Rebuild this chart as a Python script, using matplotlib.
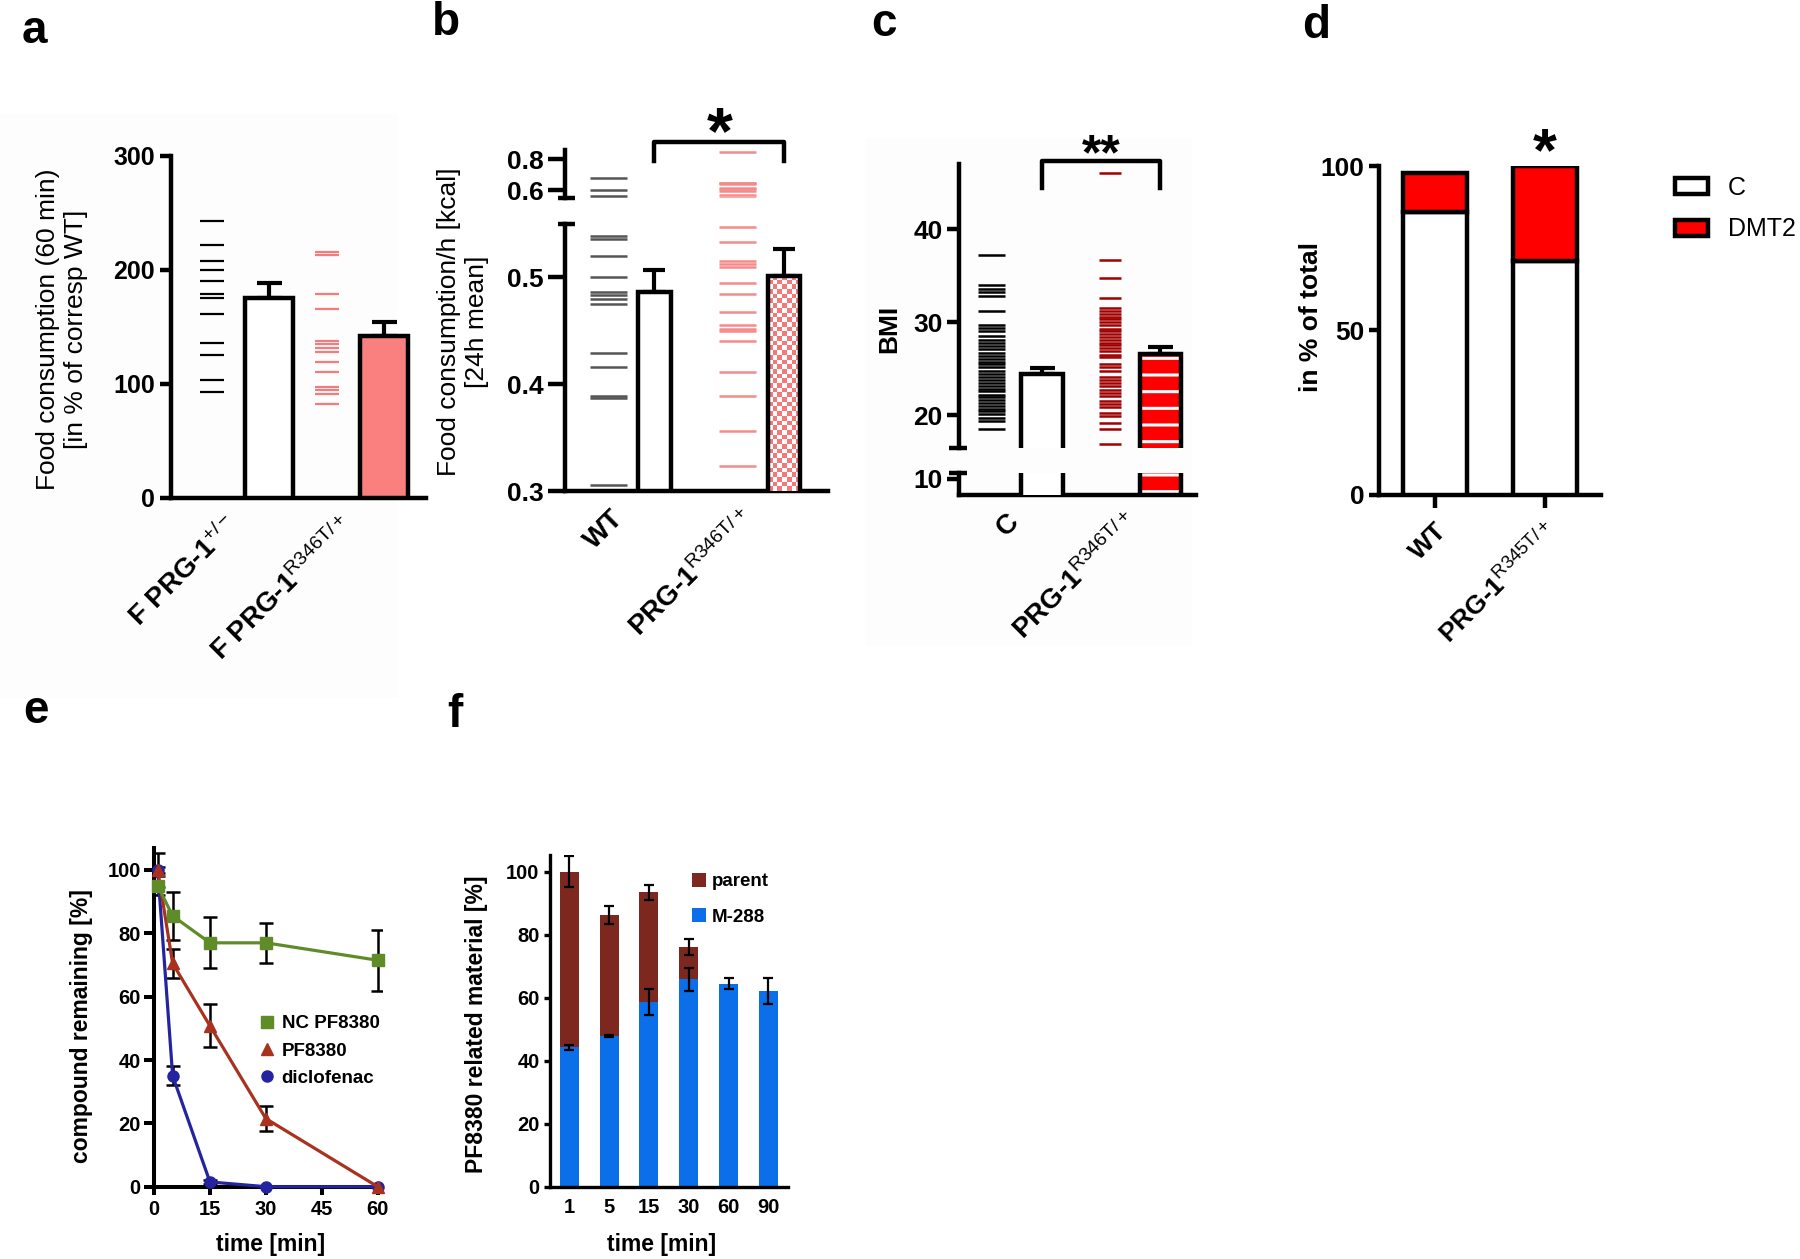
import numpy as np
import matplotlib
matplotlib.use("Agg")
import matplotlib.pyplot as plt
import matplotlib.transforms as mtransforms
from matplotlib.colors import ListedColormap
from matplotlib.lines import Line2D
from matplotlib.patches import Rectangle

plt.rcParams['font.family'] = ['Liberation Sans', 'DejaVu Sans']
plt.rcParams['mathtext.fontset'] = 'custom'
plt.rcParams['mathtext.rm'] = 'Liberation Sans'
plt.rcParams['mathtext.it'] = 'Liberation Sans:italic'
plt.rcParams['mathtext.bf'] = 'Liberation Sans:bold'
plt.rcParams['hatch.linewidth'] = 2.2

# ---------------- data ----------------
# panel a
a_labels = [r"F PRG-1$^{\mathrm{+/-}}$", r"F PRG-1$^{\mathrm{R346T/+}}$"]
a_means = [175, 142]
a_sem = [13, 12]
a_pts_het = [243, 221.5, 207.6, 200, 189.7, 178.4, 175, 161, 135.6, 124.9, 103, 92.4]
a_pts_mut = [215.7, 212.4, 179, 165, 137.8, 134.6, 131.4, 128, 119, 110, 97, 94, 91, 82]

# panel b
b_labels = ["WT", r"PRG-1$^{\mathrm{R346T/+}}$"]
b_means = [0.486, 0.501]
b_sem = [0.021, 0.025]
b_pts_wt = [0.677, 0.600, 0.563, 0.538, 0.536, 0.520, 0.500, 0.486, 0.483, 0.480,
            0.475, 0.429, 0.416, 0.389, 0.387, 0.306]
b_pts_mut = [0.847, 0.649, 0.645, 0.640, 0.612, 0.605, 0.595, 0.570, 0.547, 0.533,
             0.515, 0.5125, 0.5096, 0.4946, 0.484, 0.467, 0.455, 0.452, 0.450, 0.440,
             0.411, 0.389, 0.356, 0.324]

# panel c
c_labels = ["C", r"PRG-1$^{\mathrm{R346T/+}}$"]
c_means = [24.4, 26.6]
c_sem = [0.65, 0.7]
c_pts_c = [37.2, 34.0, 33.6, 33.2, 32.85, 31.15, 29.7, 29.4, 29.1, 28.5, 28.1, 27.8,
           27.4, 27.1, 26.7, 26.4, 26.0, 25.7, 25.5, 25.15, 24.7, 24.4, 24.1, 23.8,
           23.5, 23.15, 22.85, 22.6, 22.2, 21.9, 21.6, 21.3, 21.0, 20.7, 20.4, 20.1,
           19.7, 19.4, 18.46]
c_pts_mut = [46.1, 36.7, 34.77, 32.58, 31.5, 31.2, 30.9, 30.6, 30.3, 30.0, 29.7, 29.3,
             29.0, 28.7, 28.4, 28.1, 27.8, 27.5, 27.2, 26.85, 26.5, 26.2, 25.46, 25.15,
             24.77, 24.1, 23.8, 23.46, 23.15, 22.7, 22.4, 22.1, 21.5, 21.2, 20.9, 20.27,
             19.9, 19.1, 18.46, 16.9]

# panel d
d_labels = ["WT", r"PRG-1$^{\mathrm{R345T/+}}$"]
d_control = [86, 71]
d_dmt2 = [12, 29]

# panel e
e_time = [1, 5, 15, 30, 60]
e_nc = [95, 85.5, 77, 77, 71.5]
e_nc_err = [3, 7.5, 8, 6.3, 9.6]
e_pf = [100, 70.5, 50.8, 21.5, 0]
e_pf_err = [5.5, 4.7, 6.8, 4, 0]
e_dic = [100, 35, 1.5, 0, 0]
e_dic_err = [1, 3, 0.5, 0, 0]

# panel f
f_time = ["1", "5", "15", "30", "60", "90"]
f_m288 = [44.2, 47.8, 58.7, 65.8, 64.5, 62.1]
f_m288_err = [0.8, 0.3, 4.2, 3.7, 1.8, 4.0]
f_parent = [55.8, 38.4, 34.7, 10.2, 0, 0]
f_total_err = [5.0, 2.8, 2.3, 2.5, 0, 0]

# ---------------- figure ----------------
W, H = 1800, 1259
fig = plt.figure(figsize=(W / 100, H / 100), dpi=100)


def rect(x0, y0, x1, y1):
    return [x0 / W, 1 - y1 / H, (x1 - x0) / W, (y1 - y0) / H]


def fy(y):
    return 1 - y / H


def style(ax, lw, ticklen, left=True, bottom=True):
    ax.patch.set_visible(False)
    for s in ('top', 'right'):
        ax.spines[s].set_visible(False)
    ax.spines['left'].set_visible(left)
    ax.spines['bottom'].set_visible(bottom)
    for s in ('left', 'bottom'):
        ax.spines[s].set_linewidth(lw)
        ax.spines[s].set_capstyle('projecting')
    ax.tick_params(width=lw, length=ticklen, direction='out', color='black')
    if not bottom:
        ax.tick_params(axis='x', bottom=False, labelbottom=False)


def cap(ax, y, x0, x1, lw):
    ax.plot([x0, x1], [y, y], transform=ax.transAxes, clip_on=False, color='black',
            lw=lw, solid_capstyle='butt')


def shift_xlabels(ax, dx, dy=0):
    off = mtransforms.ScaledTranslation(dx / 100, dy / 100, fig.dpi_scale_trans)
    for lab in ax.get_xticklabels():
        lab.set_transform(lab.get_transform() + off)


# faint panel backgrounds
fig.add_artist(Rectangle((0, fy(698)), 398 / W, (698 - 113) / H, transform=fig.transFigure,
                         facecolor='#fdfdfd', edgecolor='none', zorder=-10))
fig.add_artist(Rectangle((865 / W, fy(646)), (1192 - 865) / W, (646 - 138) / H,
                         transform=fig.transFigure, facecolor='#fdfdfd', edgecolor='none',
                         zorder=-10))

# panel letters
for lab, x, y in [('a', 22, 43), ('b', 432, 35), ('c', 871, 36), ('d', 1302, 38),
                  ('e', 23, 723), ('f', 447, 727)]:
    fig.text(x / W, fy(y), lab, fontsize=33, fontweight='bold', ha='left', va='baseline')

LW = 3.2

# ================= panel a =================
axa = fig.add_axes(rect(170.9, 155.5, 425.5, 497.7))
pos_a = [0, 1, 2, 3]
axa.hlines(a_pts_het, pos_a[0] - 0.21, pos_a[0] + 0.21, color='black', lw=1.6)
axa.hlines(a_pts_mut, pos_a[2] - 0.21, pos_a[2] + 0.21, color='#f47c7c', lw=1.6)
axa.errorbar([pos_a[1], pos_a[3]], a_means, yerr=[[0, 0], a_sem], fmt='none',
             ecolor='black', elinewidth=3, capsize=9, capthick=3, zorder=2)
axa.bar([pos_a[1], pos_a[3]], a_means, width=0.84, color=['white', '#fa8080'],
        edgecolor='black', linewidth=LW, zorder=3)
axa.set_xlim(-0.711, 3.717)
axa.set_ylim(0, 300)
style(axa, LW, 8)
axa.set_yticks([0, 100, 200, 300], ['0', '100', '200', '300'], fontsize=18, fontweight='bold')
axa.set_xticks([pos_a[1], pos_a[3]], a_labels, fontsize=20, fontweight='bold', rotation=45,
               ha='right', rotation_mode='anchor')
axa.tick_params(axis='x', length=0, pad=10)
shift_xlabels(axa, -45)
fig.text(62 / W, fy(329), "Food consumption (60 min)\n[in % of corresp WT]", rotation=90,
         ha='center', va='center', multialignment='center', fontsize=19)

# ================= panel b =================
axb_lo = fig.add_axes(rect(565.4, 223.5, 827.6, 491.4))
axb_hi = fig.add_axes(rect(565.4, 150.0, 827.6, 197.9))
pos_b = [0, 1, 2.8, 3.8]
for ax in (axb_lo, axb_hi):
    ax.hlines(b_pts_wt, pos_b[0] - 0.4, pos_b[0] + 0.4, color='#555555', lw=1.8)
    ax.hlines(b_pts_mut, pos_b[2] - 0.4, pos_b[2] + 0.4, color='#f58a8a', lw=1.8)
axb_lo.errorbar([pos_b[1], pos_b[3]], b_means, yerr=[[0, 0], b_sem], fmt='none',
                ecolor='black', elinewidth=3, capsize=8, capthick=3, zorder=2)
bars_b = axb_lo.bar([pos_b[1], pos_b[3]], b_means, width=0.7, color='white',
                    edgecolor='none', zorder=2.5)
nx, ny = 7, 46
chk = np.add.outer(np.arange(ny), np.arange(nx)) % 2
im = axb_lo.imshow(chk, extent=(pos_b[3] - 0.35, pos_b[3] + 0.35, 0.3, b_means[1]),
                   cmap=ListedColormap(['white', '#f47878']), interpolation='nearest',
                   aspect='auto', zorder=2.6)
im.set_clip_path(bars_b[1])
axb_lo.bar([pos_b[1], pos_b[3]], b_means, width=0.7, color='none', edgecolor='black',
           linewidth=LW, zorder=3)
for ax in (axb_lo, axb_hi):
    ax.set_xlim(-0.923, 4.74)
axb_lo.set_ylim(0.3, 0.55)
axb_hi.set_ylim(0.55, 0.859)
style(axb_lo, LW, 12)
style(axb_hi, LW, 12, bottom=False)
axb_lo.set_yticks([0.3, 0.4, 0.5], ['0.3', '0.4', '0.5'], fontsize=19, fontweight='bold')
axb_hi.set_yticks([0.6, 0.8], ['0.6', '0.8'], fontsize=19, fontweight='bold')
axb_lo.set_xticks([pos_b[1], pos_b[3]], b_labels, fontsize=20, fontweight='bold',
                  rotation=45, ha='right', rotation_mode='anchor')
axb_lo.tick_params(axis='x', length=0, pad=10)
shift_xlabels(axb_lo, -44)
cap(axb_lo, 1, -0.029, 0.037, LW)
cap(axb_hi, 0, -0.029, 0.037, LW)
trb = mtransforms.blended_transform_factory(axb_hi.transData, axb_hi.transAxes)
axb_hi.plot([pos_b[1], pos_b[1], pos_b[3], pos_b[3]], [0.76, 1.167, 1.167, 0.76],
            transform=trb, clip_on=False, color='black', lw=LW)
trbf = mtransforms.blended_transform_factory(axb_hi.transData, fig.transFigure)
axb_hi.text((pos_b[1] + pos_b[3]) / 2, fy(153), '*', transform=trbf, fontsize=48,
            fontweight='bold', ha='center', va='baseline')
fig.text(463 / W, fy(322), "Food consumption/h [kcal]\n[24h mean]", rotation=90,
         ha='center', va='center', multialignment='center', fontsize=19)

# ================= panel c =================
axc_hi = fig.add_axes(rect(959.3, 163.6, 1195.7, 448.2))
axc_lo = fig.add_axes(rect(959.3, 473.2, 1195.7, 494.6))
pos_c = [0, 1, 2.35, 3.35]
for ax in (axc_hi, axc_lo):
    ax.hlines(c_pts_c, pos_c[0] - 0.265, pos_c[0] + 0.265, color='black', lw=1.8)
    ax.hlines(c_pts_mut, pos_c[2] - 0.22, pos_c[2] + 0.22, color='#a00000', lw=1.8)
    ax.bar(pos_c[3], c_means[1], width=0.82, color='#ff0000', edgecolor='white',
           hatch='-', linewidth=0, zorder=2.5)
    ax.bar(pos_c[1], c_means[0], width=0.83, color='white', edgecolor='black',
           linewidth=LW, zorder=3)
    ax.bar(pos_c[3], c_means[1], width=0.82, color='none', edgecolor='black',
           linewidth=LW, zorder=3)
    ax.set_xlim(-0.632, 4.05)
axc_hi.errorbar([pos_c[1], pos_c[3]], c_means, yerr=[[0, 0], c_sem], fmt='none',
                ecolor='black', elinewidth=3, capsize=9, capthick=3, zorder=2)
axc_hi.set_ylim(16.43, 47.07)
axc_lo.set_ylim(8.28, 10.58)
style(axc_hi, LW, 8.5, bottom=False)
style(axc_lo, LW, 8.5)
axc_hi.set_yticks([20, 30, 40], ['20', '30', '40'], fontsize=19, fontweight='bold')
axc_lo.set_yticks([10], ['10'], fontsize=19, fontweight='bold')
axc_lo.set_xticks([pos_c[1], pos_c[3]], c_labels, fontsize=20, fontweight='bold',
                  rotation=45, ha='right', rotation_mode='anchor')
axc_lo.tick_params(axis='x', length=0, pad=10)
shift_xlabels(axc_lo, -36)
cap(axc_hi, 0, -0.042, 0.033, LW)
cap(axc_lo, 1, -0.042, 0.033, LW)
trc = mtransforms.blended_transform_factory(axc_hi.transData, axc_hi.transAxes)
axc_hi.plot([pos_c[1], pos_c[1], pos_c[3], pos_c[3]], [0.916, 1.0077, 1.0077, 0.916],
            transform=trc, clip_on=False, color='black', lw=LW)
trcf = mtransforms.blended_transform_factory(axc_hi.transData, fig.transFigure)
axc_hi.text((pos_c[1] + pos_c[3]) / 2, fy(169), '**', transform=trcf, fontsize=36,
            fontweight='bold', ha='center', va='baseline')
fig.text(889.6 / W, fy(328.6), "BMI", rotation=90, ha='center', va='center',
         fontsize=19, fontweight='bold')

# ================= panel d =================
axd = fig.add_axes(rect(1379.3, 166.1, 1600.7, 494.6))
pos_d = [0, 1]
axd.bar(pos_d, d_control, width=0.58, color='white', edgecolor='black', linewidth=LW,
        label='C', zorder=3)
axd.bar(pos_d, d_dmt2, bottom=d_control, width=0.58, color='#ff0000', edgecolor='black',
        linewidth=LW, label='DMT2', zorder=3)
axd.set_xlim(-0.503, 1.51)
axd.set_ylim(0, 100)
style(axd, LW, 7.2)
axd.set_yticks([0, 50, 100], ['0', '50', '100'], fontsize=19, fontweight='bold')
axd.set_xticks(pos_d, d_labels, fontsize=19, fontweight='bold', rotation=45, ha='right',
               rotation_mode='anchor')
axd.tick_params(axis='x', length=9, pad=8)
trdf = mtransforms.blended_transform_factory(axd.transData, fig.transFigure)
axd.text(pos_d[1], fy(170), '*', transform=trdf, fontsize=44, fontweight='bold',
         ha='center', va='baseline')
axd.legend(loc='upper left', bbox_to_anchor=(1675 / W, fy(176)), bbox_transform=fig.transFigure,
           frameon=False, fontsize=18, handlelength=1.3, handleheight=0.6,
           handletextpad=0.8, labelspacing=0.7, borderpad=0, borderaxespad=0)
fig.text(1311.4 / W, fy(316.8), "in % of total", rotation=90, ha='center', va='center',
         fontsize=19, fontweight='bold')

# ================= panel e =================
axe = fig.add_axes(rect(154, 847.8, 381.7, 1186.7))
series_e = [
    (e_dic, e_dic_err, '#2424a0', 'o', 'diclofenac'),
    (e_pf, e_pf_err, '#a8321e', '^', 'PF8380'),
    (e_nc, e_nc_err, '#5f8c28', 's', 'NC PF8380'),
]
handles_e = {}
for yv, err, col, mk, lab in series_e:
    axe.errorbar(e_time, yv, yerr=err, fmt='none', ecolor='black', elinewidth=1.8,
                 capsize=5, capthick=1.8, zorder=2)
    axe.plot(e_time, yv, color=col, lw=2.3, marker=mk, ms=8, zorder=3, clip_on=False)
    handles_e[lab] = Line2D([], [], color=col, marker=mk, ms=8, ls='none')
axe.set_xlim(0, 61.07)
axe.set_ylim(0, 107)
style(axe, 2.9, 7)
axe.set_yticks([0, 20, 40, 60, 80, 100], ['0', '20', '40', '60', '80', '100'],
               fontsize=14.5, fontweight='bold')
axe.set_xticks([0, 15, 30, 45, 60], ['0', '15', '30', '45', '60'], fontsize=14.5,
               fontweight='bold')
axe.tick_params(axis='x', length=6)
axe.tick_params(axis='y', pad=2.5)
order_e = ['NC PF8380', 'PF8380', 'diclofenac']
axe.legend([handles_e[k] for k in order_e], order_e, loc='upper left',
           bbox_to_anchor=(259 / W, fy(1015)), bbox_transform=fig.transFigure,
           frameon=False, prop={'weight': 'bold', 'size': 13.5}, handlelength=0.8,
           handletextpad=0.4, labelspacing=0.55, borderpad=0, borderaxespad=0)
fig.text(81.7 / W, fy(1025.8), "compound remaining [%]", rotation=90, ha='center',
         va='center', fontsize=16.5, fontweight='bold')
fig.text(270.5 / W, fy(1245), "time [min]", ha='center', va='center', fontsize=16.5,
         fontweight='bold')

# ================= panel f =================
axf = fig.add_axes(rect(550, 855, 788.3, 1186.7))
xf = np.arange(len(f_time))
bm = axf.bar(xf, f_m288, width=0.48, color='#0a6fe8', label='M-288', zorder=2)
bp = axf.bar(xf, f_parent, bottom=f_m288, width=0.48, color='#7d281e', label='parent',
             zorder=2)
tot = np.array(f_m288) + np.array(f_parent)
has_p = np.array(f_parent) > 0
axf.errorbar(xf[has_p], tot[has_p], yerr=np.array(f_total_err)[has_p], fmt='none',
             ecolor='black', elinewidth=1.6, capsize=3.5, capthick=1.6, zorder=4)
axf.errorbar(xf, f_m288, yerr=f_m288_err, fmt='none', ecolor='black', elinewidth=1.6,
             capsize=3.5, capthick=1.6, zorder=4)
axf.set_xlim(-0.485, 5.5)
axf.set_ylim(0, 105.3)
style(axf, 2.4, 4)
axf.set_yticks([0, 20, 40, 60, 80, 100], ['0', '20', '40', '60', '80', '100'],
               fontsize=14.5, fontweight='bold')
axf.set_xticks(xf, f_time, fontsize=14.5, fontweight='bold')
axf.tick_params(axis='x', length=0, pad=8)
axf.legend([bp, bm], ['parent', 'M-288'], loc='upper left',
           bbox_to_anchor=(692 / W, fy(873)), bbox_transform=fig.transFigure,
           frameon=False, prop={'weight': 'bold', 'size': 13.5}, handlelength=0.75,
           handleheight=0.75, handletextpad=0.3, labelspacing=0.95, borderpad=0,
           borderaxespad=0)
fig.text(476.7 / W, fy(1024), "PF8380 related material [%]", rotation=90, ha='center',
         va='center', fontsize=16.5, fontweight='bold')
fig.text(661.7 / W, fy(1245), "time [min]", ha='center', va='center', fontsize=16.5,
         fontweight='bold')

fig.savefig("out.png", dpi=100)
